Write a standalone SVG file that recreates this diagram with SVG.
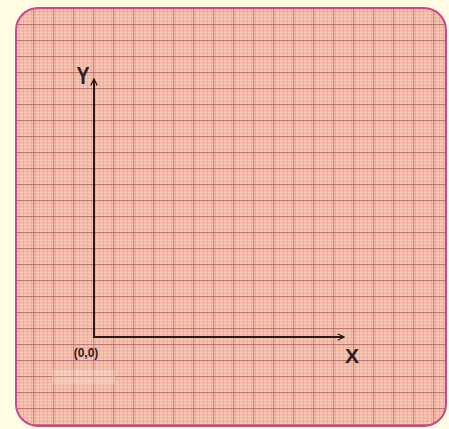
<svg xmlns="http://www.w3.org/2000/svg" width="449" height="429" viewBox="0 0 449 429">
<defs>
<pattern id="minor" x="15" y="8" width="4" height="3.2" patternUnits="userSpaceOnUse">
<rect x="0" y="0" width="1" height="3.2" fill="#e9a392" opacity="0.6"/>
<rect x="0" y="0" width="4" height="0.9" fill="#e6968a" opacity="0.65"/>
</pattern>
<pattern id="major" x="13" y="8" width="20" height="16" patternUnits="userSpaceOnUse">
<rect x="0" y="0" width="1.2" height="16" fill="#c07470" opacity="0.75"/>
<rect x="0" y="0" width="20" height="1.2" fill="#b8646a" opacity="0.75"/>
</pattern>
<clipPath id="card"><rect x="16" y="8" width="430" height="418" rx="22" ry="22"/></clipPath>
<marker id="arr" viewBox="0 0 10 10" refX="9" refY="5" markerWidth="8" markerHeight="8" orient="auto" markerUnits="userSpaceOnUse">
<path d="M1,1 L9,5 L1,9" fill="none" stroke="#2a1a1a" stroke-width="1.6"/>
</marker>
<style>
.ax{stroke:#2a1a1a;stroke-width:2;fill:none}
.lbl{font-family:"Liberation Sans",Arial,sans-serif;fill:#2e2020;font-weight:bold}
</style>
</defs>
<rect width="449" height="429" fill="#fffce2"/>
<g id="paper">
<rect x="16" y="8" width="430" height="418" rx="22" ry="22" fill="#f9c8b4"/>
<g clip-path="url(#card)">
<rect x="16" y="8" width="430" height="418" fill="url(#minor)"/>
<rect x="16" y="8" width="430" height="418" fill="url(#major)"/>
<rect x="52" y="370" width="63" height="14" fill="#fff0e4" opacity="0.25"/>
</g>
<rect x="16" y="8" width="430" height="418" rx="22" ry="22" fill="none" stroke="#c8488e" stroke-width="2"/>
</g>
<g id="connectors">
<polyline class="ax" points="94,80 94,337 344,337" marker-end="url(#arr)"/>
<line class="ax" x1="94" y1="337" x2="94" y2="79" marker-end="url(#arr)"/>
</g>
<g id="label-y"><text class="lbl" x="83" y="84" font-size="23" text-anchor="middle" transform="translate(83 0) scale(0.85 1) translate(-83 0)">Y</text></g>
<g id="label-x"><text class="lbl" x="352" y="363" font-size="21" text-anchor="middle">X</text></g>
<g id="label-origin"><text class="lbl" x="86" y="357" font-size="12" font-weight="normal" text-anchor="middle">(0,0)</text></g>
</svg>
